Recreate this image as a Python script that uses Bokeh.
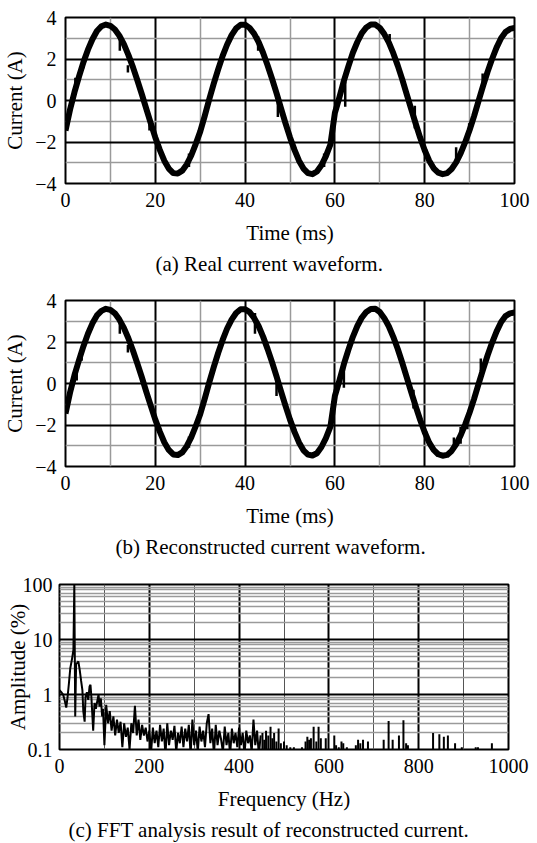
from bokeh.plotting import figure
from bokeh.layouts import column
from bokeh.models import FixedTicker, Title, CustomJSTickFormatter, Range1d
from bokeh.embed import file_html
from bokeh.resources import INLINE

FONT = "Liberation Serif"

# ---------------- data ----------------
time_ms = list(range(0, 101))

real_current = [
    -1.45, -0.45, 0.4, 1.15, 1.85, 2.45, 2.95, 3.35, 3.58, 3.66,
    3.6, 3.42, 3.12, 2.72, 2.2, 1.62, 0.98, 0.3, -0.4, -1.1,
    -1.78, -2.38, -2.9, -3.28, -3.5, -3.52, -3.38, -3.08, -2.65, -2.1,
    -1.5, -0.75, 0.05, 0.8, 1.5, 2.15, 2.7, 3.15, 3.48, 3.65,
    3.65, 3.5, 3.22, 2.82, 2.3, 1.7, 1.05, 0.35, -0.38, -1.1,
    -1.78, -2.38, -2.9, -3.28, -3.5, -3.55, -3.42, -3.12, -2.68, -2.12,
    -0.6, 0.15, 0.95, 1.65, 2.3, 2.82, 3.25, 3.52, 3.66, 3.66,
    3.5, 3.2, 2.8, 2.28, 1.68, 1.02, 0.3, -0.42, -1.12, -1.8,
    -2.4, -2.9, -3.27, -3.48, -3.55, -3.5, -3.3, -2.98, -2.55, -2.02,
    -1.42, -0.75, -0.02, 0.7, 1.38, 2.0, 2.55, 3.0, 3.3, 3.45,
    3.5,
]

recon_current = [
    -1.45, -0.45, 0.4, 1.12, 1.8, 2.4, 2.9, 3.28, 3.5, 3.6,
    3.55, 3.38, 3.08, 2.68, 2.18, 1.6, 0.96, 0.3, -0.4, -1.08,
    -1.74, -2.32, -2.83, -3.2, -3.42, -3.45, -3.32, -3.02, -2.6, -2.06,
    -1.48, -0.74, 0.04, 0.78, 1.47, 2.1, 2.65, 3.08, 3.4, 3.58,
    3.58, 3.44, 3.16, 2.77, 2.26, 1.67, 1.03, 0.34, -0.38, -1.08,
    -1.74, -2.33, -2.84, -3.22, -3.43, -3.47, -3.36, -3.06, -2.63, -2.08,
    -0.6, 0.14, 0.93, 1.62, 2.25, 2.77, 3.18, 3.45, 3.59, 3.6,
    3.45, 3.15, 2.76, 2.25, 1.66, 1.0, 0.3, -0.41, -1.1, -1.76,
    -2.35, -2.85, -3.2, -3.41, -3.48, -3.44, -3.25, -2.93, -2.5, -1.98,
    -1.4, -0.74, -0.02, 0.68, 1.35, 1.96, 2.5, 2.95, 3.25, 3.38,
    3.42,
]

# short noise bursts visible on the waveforms (time, low, high)
real_spike_t = [2.2, 4.0, 12.1, 13.9, 18.7, 27.5, 42.9, 47.3, 57.6, 62.3, 72.2, 77.8, 87.0, 89.9, 92.9]
real_spike_lo = [0.5, 1.55, 2.4, 1.35, -1.45, -3.2, 2.4, -0.8, -3.2, -0.3, 2.9, -1.35, -2.9, -1.55, 0.8]
real_spike_hi = [1.1, 2.1, 2.9, 1.7, -0.95, -2.55, 3.1, 0.25, -2.55, 0.9, 3.2, -0.25, -2.25, -1.1, 1.3]

recon_spike_t = [2.5, 3.6, 12.1, 13.9, 27.5, 42.2, 47.0, 62.0, 77.5, 86.5, 88.0, 89.5, 92.5]
recon_spike_lo = [0.15, 1.1, 2.4, 1.5, -3.1, 2.4, -0.6, -0.2, -1.2, -3.2, -2.9, -2.2, 0.6]
recon_spike_hi = [0.9, 1.5, 2.9, 1.85, -2.55, 3.4, 0.3, 0.9, -0.3, -2.6, -2.1, -1.5, 1.2]

# FFT spectrum, low-frequency part (Hz, %)
fft_low_freq = [0, 4, 8, 12, 15, 18, 21, 24, 28, 31, 33, 35, 37, 40, 42, 45, 48, 51, 53, 56,
                58, 61, 64, 67, 69, 71, 73, 75, 78, 81, 84, 87, 89, 92, 95, 97, 100]
fft_low_amp = [1.2, 1.1, 1.0, 0.75, 0.58, 0.9, 1.6, 3.0, 4.5, 6.5, 100, 0.4, 3.6, 3.8, 4.0, 2.8, 1.8, 1.2, 0.5, 0.32,
               0.9, 1.1, 0.8, 1.4, 1.5, 0.9, 0.45, 0.22, 0.7, 0.55, 0.75, 1.0, 0.6, 0.85, 0.4, 0.55, 0.12]

fft_mid_freq = list(range(104, 449, 4))
fft_mid_amp = [
    0.65, 0.3, 0.5, 0.22, 0.4, 0.18, 0.35, 0.2, 0.32, 0.11, 0.3, 0.17, 0.25, 0.1, 0.3, 0.2, 0.62, 0.18, 0.35, 0.15,
    0.28, 0.18, 0.25, 0.14, 0.22,
    0.09, 0.25, 0.13, 0.22, 0.11, 0.28, 0.14, 0.24, 0.08, 0.3, 0.12, 0.22, 0.15, 0.27, 0.09, 0.2, 0.13, 0.26, 0.11, 0.24,
    0.14, 0.28, 0.08, 0.35, 0.12,
    0.22, 0.09, 0.26, 0.14, 0.22, 0.11, 0.3, 0.44, 0.13, 0.24, 0.08, 0.28, 0.12, 0.22, 0.15, 0.09, 0.26, 0.12, 0.2, 0.08,
    0.24, 0.13, 0.2, 0.11, 0.25,
    0.12, 0.2, 0.08, 0.22, 0.13, 0.18, 0.09, 0.35, 0.12, 0.22, 0.08, 0.18,
]

# isolated spectral lines above ~450 Hz
fft_hf_freq = [452, 456, 460, 465, 470, 474, 478, 483, 488, 493, 500, 506, 514, 522, 540, 548, 552, 556, 560, 566,
               572, 577, 582, 593, 612, 616, 622, 628, 632, 640, 660, 665, 670, 676, 687, 722, 733, 742, 756, 766,
               772, 776, 832, 846, 856, 865, 881, 896, 927, 932, 963]
fft_hf_amp = [0.2, 0.15, 0.22, 0.18, 0.26, 0.16, 0.2, 0.14, 0.24, 0.13, 0.14, 0.12, 0.11, 0.11, 0.11, 0.14, 0.17, 0.15, 0.16, 0.26,
              0.14, 0.26, 0.16, 0.16, 0.18, 0.12, 0.11, 0.14, 0.13, 0.11, 0.12, 0.15, 0.13, 0.15, 0.14, 0.15, 0.33, 0.15, 0.18, 0.34,
              0.13, 0.12, 0.2, 0.19, 0.17, 0.18, 0.13, 0.11, 0.11, 0.11, 0.13]

time_ticks = [0, 20, 40, 60, 80, 100]
time_minor = [10, 30, 50, 70, 90]
cur_ticks = [-4, -2, 0, 2, 4]
cur_minor = [-3, -1, 1, 3]
freq_ticks = [0, 200, 400, 600, 800, 1000]
freq_minor = [100, 300, 500, 700, 900]
amp_ticks = [0.1, 1, 10, 100]
amp_minor = [0.2, 0.3, 0.4, 0.5, 0.6, 0.7, 0.8, 0.9, 2, 3, 4, 5, 6, 7, 8, 9, 20, 30, 40, 50, 60, 70, 80, 90]


def style(p, xlabel, ylabel, caption, cap_offset, xt, xm, yt, ym):
    p.outline_line_color = "black"
    p.outline_line_width = 2
    p.xaxis.ticker = FixedTicker(ticks=xt, minor_ticks=xm)
    p.yaxis.ticker = FixedTicker(ticks=yt, minor_ticks=ym)
    for ax in (p.xaxis[0], p.yaxis[0]):
        ax.axis_line_color = None
        ax.major_tick_line_color = None
        ax.minor_tick_line_color = None
        ax.major_tick_out = 0
        ax.major_tick_in = 0
        ax.minor_tick_out = 0
        ax.minor_tick_in = 0
        ax.major_label_text_font = FONT
        ax.major_label_text_font_size = "20px"
        ax.major_label_text_color = "black"
        ax.axis_label_text_font = FONT
        ax.axis_label_text_font_size = "21px"
        ax.axis_label_text_font_style = "normal"
        ax.axis_label_text_color = "black"
    p.xaxis.axis_label = xlabel
    p.yaxis.axis_label = ylabel
    p.xaxis.major_label_standoff = 9
    p.xaxis.axis_label_standoff = 11
    p.yaxis.major_label_standoff = 9
    p.yaxis.axis_label_standoff = 5
    for g in (p.xgrid[0], p.ygrid[0]):
        g.grid_line_color = "black"
        g.grid_line_width = 2
        g.minor_grid_line_color = "#9a9a9a"
        g.minor_grid_line_width = 1.5
        g.level = "underlay"
    t = Title(text=caption, align="left", offset=cap_offset, text_font=FONT, text_font_size="21px",
              text_font_style="normal", text_color="black", standoff=4)
    p.add_layout(t, "below")


def wave_fig(values, sp_t, sp_lo, sp_hi, caption, cap_offset, top, bottom, height):
    p = figure(width=537, height=height, output_backend="svg", toolbar_location=None,
               x_range=Range1d(0, 100), y_range=Range1d(-4, 4),
               min_border_left=65, min_border_right=17, min_border_top=top, min_border_bottom=bottom)
    style(p, "Time (ms)", "Current (A)", caption, cap_offset, time_ticks, time_minor, cur_ticks, cur_minor)
    p.line(time_ms, values, line_color="black", line_width=6, line_join="round")
    p.segment(x0=sp_t, y0=sp_lo, x1=sp_t, y1=sp_hi, line_color="black", line_width=2.5)
    return p


p1 = wave_fig(real_current, real_spike_t, real_spike_lo, real_spike_hi,
              "(a) Real current waveform.", 90, 17, 97, 280)
p2 = wave_fig(recon_current, recon_spike_t, recon_spike_lo, recon_spike_hi,
              "(b) Reconstructed current waveform.", 50, 20, 93, 280)

# the FFT panel sits 6 px further left than the two waveform panels
p3 = figure(width=543, height=283, output_backend="svg", toolbar_location=None,
            x_range=Range1d(0, 1000), y_range=Range1d(0.1, 100), y_axis_type="log",
            min_border_left=65, min_border_right=23, min_border_top=24, min_border_bottom=92,
            margin=(0, 0, 0, -6))
style(p3, "Frequency (Hz)", "Amplitude (%)", "(c) FFT analysis result of reconstructed current.", 9,
      freq_ticks, freq_minor, amp_ticks, amp_minor)
p3.yaxis.formatter = CustomJSTickFormatter(code="return String(tick);")
p3.yaxis.axis_label_standoff = -10
p3.yaxis.major_label_standoff = 7
p3.xgrid[0].minor_grid_line_color = "#555555"
p3.xgrid[0].minor_grid_line_width = 1
p3.line(fft_low_freq + fft_mid_freq, fft_low_amp + fft_mid_amp, line_color="black", line_width=2)
p3.segment(x0=fft_hf_freq, y0=[0.05] * len(fft_hf_freq), x1=fft_hf_freq, y1=fft_hf_amp,
           line_color="black", line_width=2)

layout = column(p1, p2, p3, spacing=0)
open("out.html", "w").write(file_html(layout, INLINE))
